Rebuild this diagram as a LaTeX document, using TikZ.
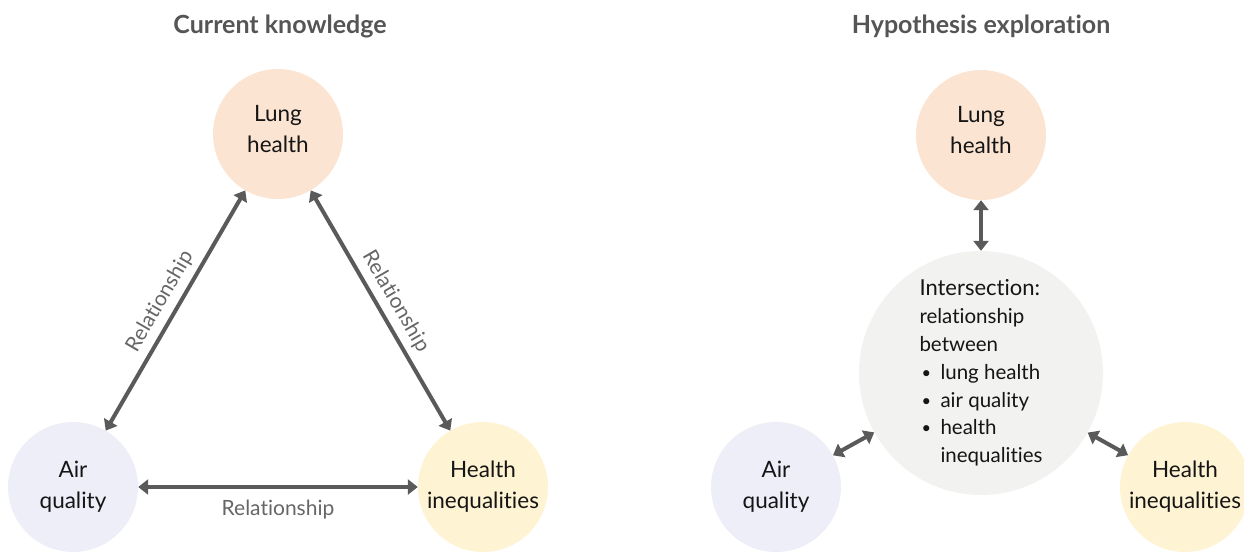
\documentclass[tikz,border=0pt]{standalone}
\usepackage{fontspec}
\setmainfont{Lato}[Ligatures={NoCommon,NoContextual}]
\usetikzlibrary{arrows.meta}
\definecolor{lungfill}{HTML}{FCE4D2}
\definecolor{airfill}{HTML}{EEEEF8}
\definecolor{healthfill}{HTML}{FEF3D3}
\definecolor{interfill}{HTML}{F2F2F0}
\definecolor{arrowgray}{HTML}{5A5A5A}
\definecolor{textdark}{HTML}{151515}
\definecolor{titlegray}{HTML}{555555}
\definecolor{labelgray}{HTML}{666666}
\newcommand{\bul}{\makebox[21pt][l]{\hspace{2pt}\raisebox{1pt}{\scalebox{0.8}{•}}}}
\begin{document}
\begin{tikzpicture}[x=1pt,y=-1pt,
  circ/.style={circle, minimum size=130pt, inner sep=0pt, align=center,
    text=textdark, font=\fontsize{22.5}{31}\selectfont},
  lungtext/.style={text depth=10pt},
  bigcirc/.style={circle, minimum size=244pt, inner sep=0pt, align=left,
    text=textdark, fill=interfill, font=\fontsize{20.5}{27.8}\selectfont},
  title/.style={font=\fontsize{25}{30}\selectfont\bfseries, text=titlegray},
  rel/.style={font=\fontsize{21}{24}\selectfont, text=labelgray},
  arr/.style={line width=4pt, draw=arrowgray,
    {Triangle[length=10pt,width=15pt]}-{Triangle[length=10pt,width=15pt]}}
]
\useasboundingbox (0,0) rectangle (1244,554);

% Titles
\node[title] (t1) at (280,26) {Current knowledge};
\node[title] (t2) at (981,26) {Hypothesis exploration};

% Left panel
\node[circ, lungtext, fill=lungfill] (lungL) at (278,134) {Lung\\health};
\node[circ, fill=airfill] (airL) at (73,487) {Air\\quality};
\node[circ, fill=healthfill] (healthL) at (483,487) {Health\\inequalities};

\draw[arr] (airL) -- node[rel, sloped, above=3pt] {Relationship} (lungL);
\draw[arr] (lungL) -- node[rel, sloped, above=3pt] {Relationship} (healthL);
\draw[arr] (airL) -- node[rel, below=8pt] {Relationship} (healthL);

% Right panel
\node[circ, lungtext, fill=lungfill] (lungR) at (981,135) {Lung\\health};
\node[bigcirc] (inter) at (981,373) {{\fontsize{22}{28}\selectfont Intersection:}\\
relationship\\
between\\
\bul lung health\\
\bul air quality\\
\bul health\\
\hspace{21pt}inequalities};
\node[circ, fill=airfill] (airR) at (776,487) {Air\\quality};
\node[circ, fill=healthfill] (healthR) at (1185,487) {Health\\inequalities};

\draw[arr] (lungR) -- (inter);
\draw[arr] (airR) -- (inter);
\draw[arr] (inter) -- (healthR);
\end{tikzpicture}
\end{document}
